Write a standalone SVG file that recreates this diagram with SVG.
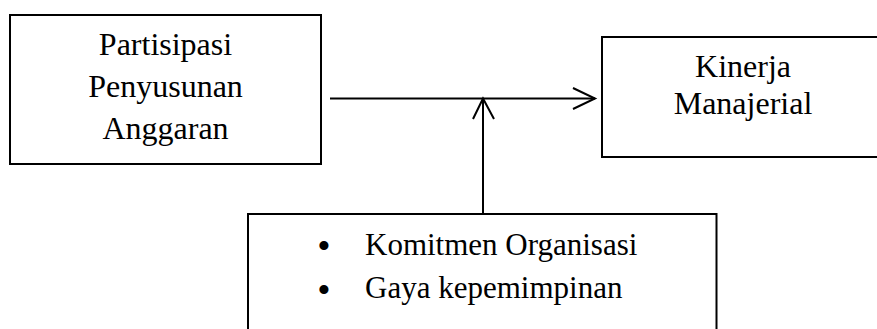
<svg xmlns="http://www.w3.org/2000/svg" width="877" height="329" viewBox="0 0 877 329">
<style>
.box{fill:#fff;stroke:#000;stroke-width:2}
.t{font-family:"Liberation Serif","Times New Roman",serif;font-size:32px;fill:#000}
.c{text-anchor:middle}
.b{font-family:"Liberation Serif","Times New Roman",serif;font-size:38px;fill:#000;text-anchor:middle}
.ln{stroke:#000;stroke-width:2;fill:none}
</style>
<rect width="877" height="329" fill="#fff"/>
<g id="node-partisipasi">
<rect class="box" x="10" y="15" width="311" height="149"/>
<text class="t c" x="165.5" y="55">Partisipasi</text>
<text class="t c" x="165.5" y="97">Penyusunan</text>
<text class="t c" x="165.5" y="139">Anggaran</text>
</g>
<g id="node-kinerja">
<rect class="box" x="602" y="37" width="284" height="120"/>
<text class="t c" x="743" y="77">Kinerja</text>
<text class="t c" x="743" y="114">Manajerial</text>
</g>
<g id="node-moderasi">
<rect class="box" x="248" y="214" width="468.5" height="130"/>
<text class="b" x="324" y="259">•</text>
<text class="t" x="365" y="255" style="font-size:31px">Komitmen Organisasi</text>
<text class="b" x="324" y="302.5">•</text>
<text class="t" x="365" y="298" style="font-size:31px">Gaya kepemimpinan</text>
</g>
<g id="connectors">
<line class="ln" x1="330" y1="98.5" x2="595" y2="98.5"/>
<polyline class="ln" points="573,88 595,98.5 573,109"/>
<line class="ln" x1="483" y1="213" x2="483" y2="98.5"/>
<polyline class="ln" points="473,119 483,98.5 494,119"/>
</g>
</svg>
